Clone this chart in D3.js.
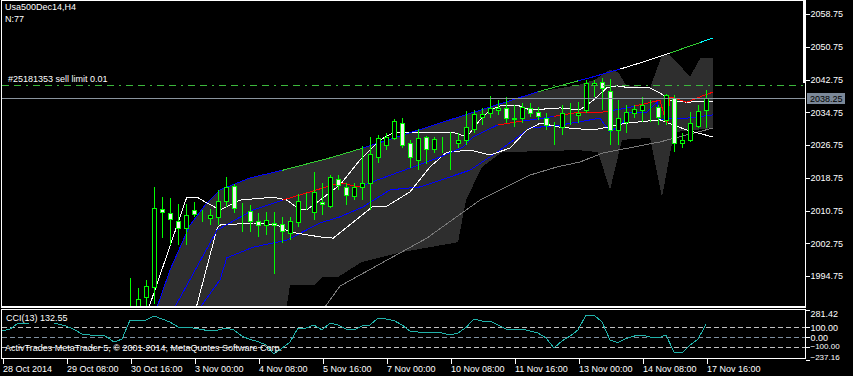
<!DOCTYPE html>
<html lang="en">
<head>
<meta charset="UTF-8">
<title>usa500-h4</title>
<script src="https://cdn.jsdelivr.net/npm/d3@7"></script>
<style>
  body { margin: 0; background: #000; }
  svg { display: block; }
  text { font-family: "Liberation Sans", Arial, sans-serif; font-size: 9px; fill: #fff; }
</style>
</head>
<body>
<script>
// bars are H4, index 0 = 28 Oct 2014 00:00; first candle that shows on screen is bar 16
let firstBar = 16;
let opens = [1984, 1985, 1989.6, 1992.1, 2011.1, 2010.1, 2008.2, 2006.5, 2010.9, 2009.4, 2008.9, 2009.2, 2013.1, 2016.7,
  2010.4, 2010.6, 2008.2, 2007.2, 2007.7, 2007.45, 2005.25, 2007.9, 2013.3, 2010.4, 2012.8, 2011.8, 2018.4, 2016.5,
  2014.3, 2016.5, 2017.5, 2023.8, 2026.75, 2028.5, 2032.1, 2027.2, 2023.1, 2028.7, 2025.8, 2027.5, 2027.5, 2027.2,
  2028.0, 2030.7, 2033.6, 2034.6, 2035.3, 2035.8, 2033.3, 2033.3, 2035.8, 2034.8, 2033.3, 2031.1, 2031.1, 2034.6,
  2034.1, 2035.3, 2041.4, 2042.1, 2039.9, 2030.4, 2032.4, 2034.6, 2035.3, 2035.8, 2036.0, 2032.9, 2038.2, 2027.2,
  2028.0, 2031.4, 2035.3];
let highs = [1994.3, 1991.8, 1993.8, 2016.5, 2014.0, 2013.8, 2012.3, 2012.3, 2012.8, 2010.9, 2011.1, 2015.8, 2018.9,
  2017.2, 2012.6, 2012.1, 2010.1, 2010.4, 2010.4, 2009.2, 2009.2, 2014.8, 2015.0, 2020.2, 2017.5, 2019.4, 2019.4,
  2017.5, 2017.5, 2026.5, 2028.7, 2029.2, 2029.7, 2033.1, 2033.3, 2028.0, 2030.7, 2028.9, 2028.7, 2028.7, 2029.9,
  2029.7, 2035.1, 2035.3, 2035.8, 2038.7, 2037.7, 2038.5, 2036.5, 2037.0, 2037.0, 2036.0, 2034.6, 2032.4, 2036.5,
  2037.0, 2037.2, 2042.6, 2042.6, 2043.1, 2042.9, 2037.7, 2036.5, 2036.5, 2038.5, 2037.7, 2036.5, 2039.3, 2039.0,
  2029.7, 2034.8, 2036.5, 2040.2];
let lows = [1982, 1983, 1986.5, 1988, 2004.0, 2002.3, 2002.3, 2002.3, 2009.2, 2007.9, 2007.2, 2007.2, 2011.6, 2010.1,
  2005.5, 2005.5, 2004.3, 2004.8, 1995.2, 2002.8, 2003.5, 2006.7, 2010.9, 2008.4, 2009.6, 2011.4, 2015.8, 2012.1,
  2013.3, 2013.3, 2010.9, 2022.4, 2025.5, 2028.0, 2026.0, 2021.1, 2020.6, 2022.1, 2024.8, 2024.8, 2020.6, 2026.0,
  2026.75, 2029.7, 2031.6, 2033.3, 2034.1, 2032.1, 2031.1, 2032.1, 2033.6, 2032.9, 2030.4, 2026.75, 2029.2, 2031.6,
  2032.1, 2034.6, 2038.5, 2035.3, 2026.75, 2026.75, 2029.7, 2033.3, 2032.4, 2032.4, 2031.6, 2031.6, 2025.0, 2026.0,
  2027.5, 2030.9, 2030.9];
let closes = [1986, 1989.1, 1992.3, 2011.4, 2010.4, 2008.7, 2006.5, 2009.6, 2009.9, 2009.5, 2009.6, 2013.1, 2016.5,
  2011.4, 2010.5, 2008.2, 2007.2, 2008.4, 2007.2, 2005.7, 2008.2, 2013.1, 2013.4, 2015.3, 2012.3, 2018.9, 2017.0,
  2014.5, 2016.5, 2017.5, 2024.5, 2028.5, 2028.7, 2032.6, 2026.75, 2023.8, 2028.5, 2025.8, 2028.2, 2027.6, 2027.6,
  2028.0, 2031.1, 2034.3, 2034.3, 2035.8, 2035.8, 2033.3, 2033.1, 2036.0, 2034.6, 2033.8, 2031.6, 2031.2, 2034.6,
  2034.7, 2034.6, 2041.9, 2041.9, 2040.7, 2030.4, 2033.3, 2034.8, 2035.5, 2036.5, 2035.9, 2033.6, 2039.0, 2027.2,
  2028.0, 2032.1, 2035.1, 2038.25];

// CCI(13), one value per bar from bar 0
let cci = [63, 84, 146, 136, 170, 190, 160, 136, 115, 81, 32, 22, 22, 11, -51, -20, 177, 177, 177, 219,
  188, 157, 105, 100, 94, 79, 63, 74, 94, 74, 11, -25, -46, -82, -175, -113, -51, 94, 94, 126,
  74, 146, 126, 84, 74, 115, 126, 198, 188, 172, 126, 63, 53, 43, 43, 43, 22, 43, 100, 188,
  167, 167, 126, 84, 84, 84, 63, 43, -9, -113, -40, 11, 74, 229, 229, 157, -30, -56, -15, 11,
  22, 1, -9, 22, -155, -165, -82, -20, 132.55];

// indicator lines as [bar, price]
let envTop = [[19, 1985], [21, 1996.2], [23.5, 2007.2], [25.4, 2012.1], [27.25, 2015.8], [31, 2018.7], [35.1, 2020.6],
  [41, 2023.6], [45.1, 2026.0], [56, 2032.9], [66.9, 2039.7], [71, 2041.9], [73.9, 2043.4], [77.25, 2045.3],
  [80.1, 2047.0], [83.5, 2049.2], [86.4, 2051.2], [88.9, 2052.9]];
let envTopColors = [[0, 35, '#0000ff'], [35, 45, '#32cd32'], [45, 67, '#0000ff'], [67, 72, '#32cd32'],
  [72, 77.25, '#0000ff'], [77.25, 83.5, '#ffffff'], [83.5, 87.25, '#32cd32'], [87.25, 90, '#00ffff']];
let upperBand = [[18, 1985], [23.1, 2014.0], [24.4, 2014.0], [25.6, 2012.6], [27.25, 2010.9], [29.75, 2013.3],
  [33.9, 2014.0], [35.6, 2013.3], [37.25, 2010.9], [38.1, 2010.9], [39.75, 2013.3], [42.25, 2017.0], [44.75, 2023.1],
  [47.25, 2028.0], [49.1, 2029.9], [53.5, 2029.9], [56.6, 2029.7], [58.1, 2028.7], [59.75, 2032.9], [61, 2035.3],
  [62.6, 2036.5], [64.4, 2036.5], [66, 2035.3], [69.75, 2035.8], [72.25, 2035.3], [73.9, 2037.7], [75.6, 2040.7],
  [76.9, 2041.2], [78.5, 2040.7], [81, 2040.7], [82.25, 2039.5], [83.5, 2037.7], [85.6, 2037.2], [88.9, 2037.5]];
let lowerBand = [[24, 1985], [26.9, 2006.5], [27.25, 2007.2], [31.4, 2007.7], [34.4, 2007.2], [36, 2005.5],
  [39.75, 2004.3], [41.4, 2004.0], [46.4, 2011.8], [48.1, 2011.8], [51, 2015.3], [53.5, 2021.4], [55.6, 2025.0],
  [58.5, 2025.5], [61, 2024.3], [63.5, 2026.0], [65.6, 2030.4], [67.3, 2032.1], [69.75, 2031.1], [73.9, 2030.4],
  [78.1, 2032.1], [82.25, 2032.9], [85.6, 2030.4], [88.9, 2028.7]];
let midLine = [[21, 1985], [26.9, 2006.0], [31.4, 2010.9], [35.1, 2013.3], [42.25, 2017.5], [44.75, 2016.5],
  [46.9, 2018.2], [51.4, 2021.4], [54.75, 2023.8], [57.6, 2026.2], [58.9, 2028.7], [61.9, 2031.6], [64.4, 2032.4],
  [67.6, 2033.3], [72.25, 2034.8], [75.1, 2034.8], [78.1, 2035.8], [82.25, 2037.7], [83.1, 2031.6], [83.5, 2038.5],
  [85.6, 2037.2], [87.25, 2038.5], [88.9, 2039.7]];
let midLineColors = [[0, 35.1, '#0000ff'], [35.1, 45, '#ff0000'], [45, 62, '#0000ff'], [62, 65, '#ff0000'],
  [65, 69, '#0000ff'], [69, 76, '#ff0000'], [76, 79, '#0000ff'], [79, 90, '#ff0000']];
let lowerBlue = [[24, 1985], [27.25, 1993.8], [28.1, 1999.2], [31.4, 2001.8], [35.6, 2003.5], [39.75, 2007.7],
  [42.25, 2009.2], [45.1, 2011.6], [48.5, 2015.8], [52.25, 2016.5], [58.5, 2020.6], [62.25, 2025.5], [66, 2030.9],
  [69.75, 2031.6], [74.75, 2033.3], [76, 2029.9], [77.6, 2032.1], [78.1, 2034.6], [80.6, 2034.8], [81.9, 2037.2],
  [82.25, 2032.9], [83.5, 2033.3], [85.6, 2033.3], [88.9, 2034.1]];
let slowLine = [[39.75, 1985.5], [42.25, 1992.3], [53.1, 2004.0], [59.75, 2013.3], [66, 2019.4], [69.4, 2021.4],
  [72.25, 2022.6], [75.1, 2024.8], [82.25, 2027.5], [88.9, 2030.9]];
let cloudHigh = [[19, 1985], [21, 1996.2], [23.5, 2007.2], [25.4, 2012.1], [27.25, 2015.8], [31, 2018.7],
  [35.1, 2020.6], [41, 2023.6], [45.1, 2026.0], [56, 2032.9], [66.9, 2039.7], [70, 2040.7], [72, 2041.4],
  [74, 2042.6], [76, 2045.1], [77, 2044.6], [78, 2041.4], [81, 2040.7], [82.5, 2048.7], [83.5, 2048.7],
  [85, 2045.6], [86, 2043.4], [87.3, 2048.0], [88.9, 2048.0]];
let cloudLow = [[19, 1980], [35, 1980], [36, 1992.5], [39, 1992.5], [40, 1994.5], [42, 1994.5], [45, 1998.2],
  [50, 2000.6], [57, 2003.0], [58, 2013.3], [60, 2021.4], [62.5, 2025.0], [72, 2025.5], [74.5, 2025.0],
  [76, 2015.8], [77.5, 2028.0], [81, 2028.5], [82.5, 2014.0], [84, 2029.9], [88.9, 2030.9]];

let priceTicks = [1994.75, 2002.75, 2010.75, 2018.75, 2026.75, 2034.75, 2042.75, 2050.75, 2058.75];
let cciTicks = [281.42, 100, 0, -100, -237.16];
let cciLevels = [100, 0, -100];
let timeTickBars = [0, 8, 16, 24, 32, 40, 48, 56, 64, 72, 80, 88];
let timeLabels = ['28 Oct 2014', '29 Oct 08:00', '30 Oct 16:00', '3 Nov 00:00', '4 Nov 08:00', '5 Nov 16:00',
  '7 Nov 00:00', '10 Nov 08:00', '11 Nov 16:00', '13 Nov 00:00', '14 Nov 08:00', '17 Nov 16:00'];
let bidPrice = 2038.25;
let sellLimitPrice = 2041.4;

let width = 853, height = 376;
let main = {left: 2, right: 805, top: 1, bottom: 306};
let sub = {top: 310, bottom: 359};

let x = d3.scaleLinear().domain([0, 88]).range([2, 706]);
let y = d3.scaleLinear().domain([1994.75, 2058.75]).range([276, 14]);
let yCci = d3.scaleLinear().domain([-237.16, 281.42]).range([360, 310]);

let svg = d3.select('body').append('svg')
  .attr('width', width)
  .attr('height', height)
  .style('background', '#000')
  .attr('shape-rendering', 'crispEdges');

let defs = svg.append('defs');
defs.append('clipPath').attr('id', 'main-clip')
  .append('rect')
  .attr('x', main.left).attr('y', main.top)
  .attr('width', main.right - main.left).attr('height', main.bottom - main.top);
defs.append('clipPath').attr('id', 'sub-clip')
  .append('rect')
  .attr('x', main.left).attr('y', sub.top)
  .attr('width', main.right - main.left).attr('height', sub.bottom - sub.top - 1);

let body = svg.append('g').attr('clip-path', 'url(#main-clip)');

let priceLine = d3.line()
  .x(function (d) { return x(d[0]); })
  .y(function (d) { return y(d[1]); });

// grey cloud
let cloud = cloudHigh.concat(cloudLow.slice().reverse());
body.append('path')
  .attr('d', priceLine(cloud) + 'Z')
  .attr('fill', '#2e2e2e');

function colouredLine(g, data, colors, name) {
  colors.forEach(function (c, k) {
    let id = 'clip-' + name + '-' + k;
    defs.append('clipPath').attr('id', id)
      .append('rect')
      .attr('x', x(c[0])).attr('y', 0)
      .attr('width', x(c[1]) - x(c[0])).attr('height', height);
    g.append('g').attr('clip-path', 'url(#' + id + ')')
      .append('path')
      .attr('d', priceLine(data))
      .attr('fill', 'none')
      .attr('stroke', c[2])
      .attr('stroke-width', 1);
  });
}

function plainLine(g, data, color) {
  g.append('path')
    .attr('d', priceLine(data))
    .attr('fill', 'none')
    .attr('stroke', color)
    .attr('stroke-width', 1);
}

plainLine(body, slowLine, '#7a7a7a');
plainLine(body, lowerBlue, '#0000ff');
plainLine(body, lowerBand, '#ffffff');
plainLine(body, upperBand, '#ffffff');
colouredLine(body, midLine, midLineColors, 'mid');
colouredLine(body, envTop, envTopColors, 'env');

// candles
let bars = opens.map(function (o, k) {
  return {i: firstBar + k, o: o, h: highs[k], l: lows[k], c: closes[k]};
});
let candle = body.selectAll('g.candle')
  .data(bars)
  .enter()
  .append('g')
  .attr('class', 'candle');
candle.append('line')
  .attr('x1', function (d) { return Math.round(x(d.i)) + 0.5; })
  .attr('x2', function (d) { return Math.round(x(d.i)) + 0.5; })
  .attr('y1', function (d) { return Math.round(y(d.h)); })
  .attr('y2', function (d) { return Math.round(y(d.l)); })
  .attr('stroke', '#00ff00');
candle.append('rect')
  .attr('x', function (d) { return Math.round(x(d.i)) - 1.5; })
  .attr('y', function (d) { return Math.round(y(Math.max(d.o, d.c))) + 0.5; })
  .attr('width', 4)
  .attr('height', function (d) { return Math.max(0, Math.round(Math.abs(y(d.o) - y(d.c)))); })
  .attr('fill', function (d) { return d.c >= d.o ? '#000' : '#f0f0f0'; })
  .attr('stroke', '#00ff00');

// bid and pending order lines
body.append('line')
  .attr('x1', main.left).attr('x2', main.right)
  .attr('y1', Math.round(y(bidPrice)) + 0.5).attr('y2', Math.round(y(bidPrice)) + 0.5)
  .attr('stroke', '#8a949e');
body.append('line')
  .attr('x1', main.left).attr('x2', main.right)
  .attr('y1', Math.round(y(sellLimitPrice)) + 0.5).attr('y2', Math.round(y(sellLimitPrice)) + 0.5)
  .attr('stroke', '#3cb83c')
  .attr('stroke-dasharray', '7,5,7,5,2,5');
svg.append('text')
  .attr('x', 8).attr('y', Math.round(y(sellLimitPrice)) - 3)
  .text('#25181353 sell limit 0.01');

svg.append('text').attr('x', 5).attr('y', 10).text('Usa500Dec14,H4');
svg.append('text').attr('x', 5).attr('y', 22).text('N:77');

// CCI window
let subG = svg.append('g').attr('clip-path', 'url(#sub-clip)');
subG.selectAll('line.level')
  .data(cciLevels)
  .enter()
  .append('line')
  .attr('class', 'level')
  .attr('x1', main.left).attr('x2', main.right)
  .attr('y1', function (d) { return Math.round(yCci(d)) + 0.5; })
  .attr('y2', function (d) { return Math.round(yCci(d)) + 0.5; })
  .attr('stroke', function (d) { return d === 0 ? '#8090a0' : '#c0c0c0'; })
  .attr('stroke-dasharray', '5,3');
subG.append('path')
  .attr('d', d3.line()
    .x(function (d, i) { return x(i); })
    .y(function (d) { return yCci(d); })(cci))
  .attr('fill', 'none')
  .attr('stroke', '#20b2aa');
svg.append('rect')
  .attr('x', 4).attr('y', 312).attr('width', 68).attr('height', 11)
  .attr('fill', '#000');
svg.append('text').attr('x', 6).attr('y', 321).text('CCI(13) ' + d3.format('.2f')(cci[cci.length - 1]));
svg.append('text').attr('x', 5).attr('y', 351)
  .text('ActivTrades MetaTrader 5, \u00a9 2001-2014, MetaQuotes Software Corp.');

// frames
svg.append('rect')
  .attr('x', 1.5).attr('y', 0.5).attr('width', 804).attr('height', 306)
  .attr('fill', 'none').attr('stroke', '#fff');
svg.append('line')
  .attr('x1', 1).attr('x2', 806).attr('y1', 307).attr('y2', 307)
  .attr('stroke', '#fff').attr('stroke-width', 2);
svg.append('rect')
  .attr('x', 1.5).attr('y', 309.5).attr('width', 804).attr('height', 49)
  .attr('fill', 'none').attr('stroke', '#fff');
svg.append('rect')
  .attr('x', 803).attr('y', 1).attr('width', 3).attr('height', 82)
  .attr('fill', '#fff');

// price scale
let yAxis = d3.axisRight(y)
  .tickValues(priceTicks)
  .tickFormat(d3.format('.2f'))
  .tickSize(4);
let yAxisG = svg.append('g')
  .attr('transform', 'translate(805.5,0)')
  .call(yAxis);

let cciAxis = d3.axisRight(yCci)
  .tickValues(cciTicks)
  .tickFormat(d3.format('.2f'))
  .tickSize(4);
let cciAxisG = svg.append('g')
  .attr('transform', 'translate(805.5,0)')
  .call(cciAxis);
// keep the end labels inside the sub-window, as the terminal does
cciAxisG.selectAll('.tick text')
  .attr('transform', function (d) {
    if (d === cciTicks[0]) return 'translate(0,4)';
    if (d === -100) return 'translate(0,-1)';
    if (d === cciTicks[cciTicks.length - 1]) return 'translate(0,-3)';
    return null;
  });

[yAxisG, cciAxisG].forEach(function (g) {
  g.select('.domain').remove();
  g.selectAll('.tick line').attr('stroke', '#fff');
  g.selectAll('.tick text')
    .attr('x', 5)
    .style('font-family', '"Liberation Sans", Arial, sans-serif')
    .style('font-size', '9px')
    .attr('fill', '#fff');
});
cciAxisG.selectAll('.tick text')
  .filter(function (d) { return d === -100 || d === cciTicks[cciTicks.length - 1]; })
  .style('font-size', '8px');

// bid label
svg.append('rect')
  .attr('x', 807).attr('y', Math.round(y(bidPrice)) - 5)
  .attr('width', 38).attr('height', 11)
  .attr('fill', '#7b8898');
svg.append('text')
  .attr('x', 810).attr('y', Math.round(y(bidPrice)) + 4)
  .style('fill', '#000')
  .text(d3.format('.2f')(bidPrice));

// time scale
let xAxis = d3.axisBottom(x)
  .tickValues(timeTickBars)
  .tickFormat(function (d, i) { return timeLabels[i]; })
  .tickSize(5);
let xAxisG = svg.append('g')
  .attr('transform', 'translate(0.5,359)')
  .call(xAxis);
xAxisG.select('.domain').remove();
xAxisG.selectAll('.tick line').attr('stroke', '#fff');
xAxisG.selectAll('.tick text')
  .attr('text-anchor', 'start')
  .attr('x', 0)
  .attr('y', 13)
  .attr('dy', null)
  .style('font-family', '"Liberation Sans", Arial, sans-serif')
  .style('font-size', '9px')
  .attr('fill', '#fff');
</script>
</body>
</html>
